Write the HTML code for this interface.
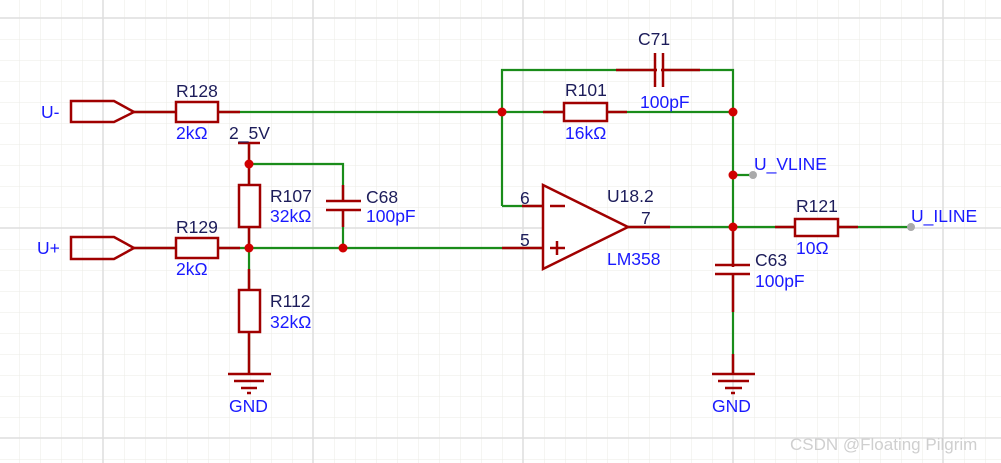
<!DOCTYPE html>
<html><head><meta charset="utf-8"><style>
html,body{margin:0;padding:0;background:#fff;}
svg{display:block}
text{font-family:"Liberation Sans",sans-serif;font-size:17.5px;}
.n{fill:#1c1c5a}.v{fill:#1a1aff}
</style></head><body>
<svg width="1001" height="463" viewBox="0 0 1001 463" xmlns="http://www.w3.org/2000/svg">
<defs>
<pattern id="g" x="19" y="18" width="21" height="21" patternUnits="userSpaceOnUse">
<path d="M0 0H21M0 0V21" stroke="#ebebe5" stroke-width="1" fill="none"/>
</pattern>
</defs>
<rect width="1001" height="463" fill="#fff"/>
<rect width="1001" height="463" fill="url(#g)"/>
<g stroke="#dedede" stroke-width="1.5">
<line x1="103" y1="0" x2="103" y2="463"/><line x1="313" y1="0" x2="313" y2="463"/>
<line x1="523" y1="0" x2="523" y2="463"/><line x1="733" y1="0" x2="733" y2="463"/>
<line x1="943" y1="0" x2="943" y2="463"/>
<line x1="0" y1="18" x2="1001" y2="18"/><line x1="0" y1="228" x2="1001" y2="228"/>
<line x1="0" y1="438" x2="1001" y2="438"/>
</g>
<g stroke="#1a8c1a" stroke-width="2.2" fill="none">
<line x1="134" y1="112" x2="733" y2="112"/>
<line x1="134" y1="248" x2="543" y2="248"/>
<polyline points="502,112 502,70 733,70 733,227"/>
<line x1="502" y1="112" x2="502" y2="206"/><line x1="502" y1="206" x2="543" y2="206"/>
<polyline points="249,164 343,164 343,248"/>
<line x1="249" y1="143" x2="249" y2="375"/>
<line x1="628" y1="227" x2="911" y2="227"/>
<line x1="733" y1="175" x2="753" y2="175"/>
<line x1="733" y1="227" x2="733" y2="375"/>
</g>
<g stroke="#a00000" stroke-width="2.5" fill="none">
<polygon points="71,101 114,101 134,112 114,122 71,122"/>
<polygon points="71,237 114,237 134,248 114,259 71,259"/>
<line x1="134" y1="112" x2="240" y2="112"/>
<rect x="176" y="102" width="42" height="20" fill="#fff"/>
<line x1="134" y1="248" x2="240" y2="248"/>
<rect x="176" y="238" width="42" height="20" fill="#fff"/>
<line x1="238" y1="143" x2="260" y2="143"/>
<line x1="249" y1="143" x2="249" y2="164"/>
<line x1="249" y1="164" x2="249" y2="248"/>
<rect x="239" y="185" width="21" height="42" fill="#fff"/>
<line x1="249" y1="269" x2="249" y2="354"/>
<rect x="239" y="290" width="21" height="42" fill="#fff"/>
<line x1="249" y1="354" x2="249" y2="374"/>
<line x1="228" y1="374" x2="271" y2="374"/><line x1="234" y1="381" x2="264" y2="381"/><line x1="241" y1="388" x2="257" y2="388"/><line x1="247" y1="393" x2="251" y2="393"/>
<line x1="343" y1="185" x2="343" y2="227"/>
<rect x="330" y="202" width="30" height="7" fill="#fff" stroke="none"/>
<line x1="326" y1="201" x2="361" y2="201"/><line x1="326" y1="210" x2="361" y2="210"/>
<line x1="616" y1="70" x2="700" y2="70"/>
<rect x="657" y="55" width="4" height="30" fill="#fff" stroke="none"/>
<line x1="655" y1="53" x2="655" y2="87"/><line x1="663" y1="53" x2="663" y2="87"/>
<line x1="543" y1="112" x2="627" y2="112"/>
<rect x="564" y="103" width="43" height="18" fill="#fff"/>
<line x1="522" y1="206" x2="543" y2="206"/><line x1="502" y1="248" x2="543" y2="248"/>
<polygon points="543,185 628,227 543,269" fill="#fff"/>
<line x1="550" y1="206" x2="565" y2="206"/>
<line x1="550" y1="248" x2="565" y2="248"/><line x1="557" y1="241" x2="557" y2="255"/>
<line x1="628" y1="227" x2="670" y2="227"/>
<line x1="775" y1="227" x2="858" y2="227"/>
<rect x="795" y="219" width="43" height="17" fill="#fff"/>
<line x1="733" y1="227" x2="733" y2="312"/>
<rect x="716" y="267" width="34" height="6" fill="#fff" stroke="none"/>
<line x1="715" y1="265" x2="750" y2="265"/><line x1="715" y1="274" x2="750" y2="274"/>
<line x1="733" y1="354" x2="733" y2="374"/>
<line x1="712" y1="374" x2="755" y2="374"/><line x1="718" y1="381" x2="749" y2="381"/><line x1="725" y1="388" x2="742" y2="388"/><line x1="731" y1="393" x2="735" y2="393"/>
</g>
<g fill="#d00000">
<circle cx="502" cy="112" r="4.5"/><circle cx="733" cy="112" r="4.5"/>
<circle cx="249" cy="164" r="4.5"/><circle cx="249" cy="248" r="4.5"/>
<circle cx="343" cy="248" r="4.5"/><circle cx="733" cy="175" r="4.5"/>
<circle cx="733" cy="227" r="4.5"/>
</g>
<circle cx="753" cy="175" r="4" fill="#aaa"/><circle cx="911" cy="227" r="4" fill="#aaa"/>
<text class="v" x="41" y="118">U-</text>
<text class="v" x="37" y="254">U+</text>
<text class="n" x="176" y="97">R128</text><text class="v" x="176" y="139">2kΩ</text>
<text class="n" x="176" y="233">R129</text><text class="v" x="176" y="275">2kΩ</text>
<text class="n" x="229" y="139">2_5V</text>
<text class="n" x="270" y="202">R107</text><text class="v" x="270" y="222">32kΩ</text>
<text class="n" x="270" y="307">R112</text><text class="v" x="270" y="328">32kΩ</text>
<text class="v" x="229" y="412">GND</text>
<text class="n" x="366" y="203">C68</text><text class="v" x="366" y="222">100pF</text>
<text class="n" x="638" y="45">C71</text><text class="v" x="640" y="108">100pF</text>
<text class="n" x="565" y="96">R101</text><text class="v" x="565" y="139">16kΩ</text>
<text class="n" x="520" y="204">6</text><text class="n" x="520" y="246">5</text>
<text class="n" x="607" y="202">U18.2</text><text class="n" x="641" y="224">7</text>
<text class="v" x="607" y="265">LM358</text>
<text class="v" x="754" y="170">U_VLINE</text>
<text class="n" x="796" y="212">R121</text><text class="v" x="796" y="254">10Ω</text>
<text class="v" x="911" y="222">U_ILINE</text>
<text class="n" x="755" y="266">C63</text><text class="v" x="755" y="287">100pF</text>
<text class="v" x="712" y="412">GND</text>
<text x="790" y="450" style="fill:#cfcfcf;font-size:17px">CSDN @Floating Pilgrim</text>
</svg>
</body></html>
